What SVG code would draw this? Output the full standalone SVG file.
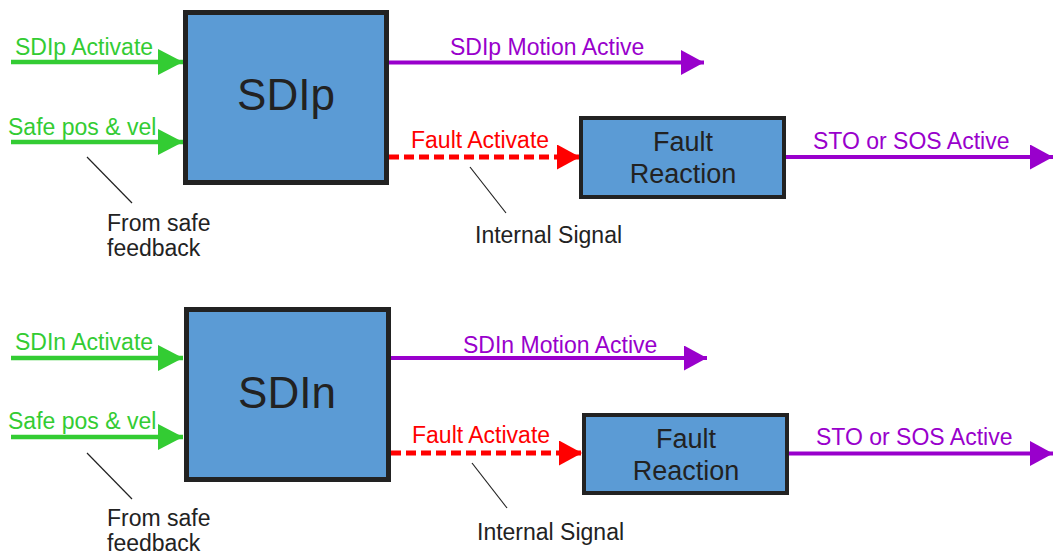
<svg xmlns="http://www.w3.org/2000/svg" width="1053" height="554" viewBox="0 0 1053 554">
<style>
text{font-family:"Liberation Sans",Arial,sans-serif;font-size:23px}
.g{fill:#33cc33}.p{fill:#9900cc}.r{fill:#ff0000}.k{fill:#222222}
.box{fill:#5b9bd5;stroke:#222222}
.big{font-size:44px;text-anchor:middle}
.fr{font-size:27px;text-anchor:middle}
.gl{stroke:#33cc33;stroke-width:4.5;fill:none}
.pl{stroke:#9900cc;stroke-width:4;fill:none}
.rl{stroke:#ff0000;stroke-width:5;stroke-dasharray:10 5;fill:none}
.lead{stroke:#222222;stroke-width:1.2;fill:none}
</style>
<defs>
<marker id="ag" markerUnits="userSpaceOnUse" markerWidth="25" markerHeight="26" refX="25" refY="13" orient="auto"><path d="M0,0 L25,13 L0,26 z" fill="#33cc33"/></marker>
<marker id="ap" markerUnits="userSpaceOnUse" markerWidth="23" markerHeight="25" refX="23" refY="12.5" orient="auto"><path d="M0,0 L23,12.5 L0,25 z" fill="#9900cc"/></marker>
<marker id="ar" markerUnits="userSpaceOnUse" markerWidth="23" markerHeight="25" refX="23" refY="12.5" orient="auto"><path d="M0,0 L23,12.5 L0,25 z" fill="#ff0000"/></marker>
</defs>
<rect width="1053" height="554" fill="#ffffff"/>

<g id="connectors">
<path class="gl" d="M11,62 H183" marker-end="url(#ag)"/>
<path class="gl" d="M11,142 H183" marker-end="url(#ag)"/>
<path class="pl" d="M389,62.5 H704" marker-end="url(#ap)"/>
<path class="rl" d="M389,157 H580" marker-end="url(#ar)"/>
<path class="pl" d="M786,157 H1053" marker-end="url(#ap)"/>
<path class="lead" d="M87,157 L132,203"/>
<path class="lead" d="M470,167 L506,213"/>

<path class="gl" d="M11,358 H183" marker-end="url(#ag)"/>
<path class="gl" d="M11,437 H183" marker-end="url(#ag)"/>
<path class="pl" d="M391,358 H707" marker-end="url(#ap)"/>
<path class="rl" d="M391,453 H582" marker-end="url(#ar)"/>
<path class="pl" d="M789,453.5 H1053" marker-end="url(#ap)"/>
<path class="lead" d="M87,453 L132,499"/>
<path class="lead" d="M472,463 L507,508"/>
</g>

<g id="labels">
<text class="g" x="15" y="55">SDIp Activate</text>
<text class="g" x="8" y="135">Safe pos &amp; vel</text>
<text class="p" x="450" y="55">SDIp Motion Active</text>
<text class="r" x="411" y="148">Fault Activate</text>
<text class="p" x="813" y="149">STO or SOS Active</text>
<text class="k" x="107" y="231">From safe</text>
<text class="k" x="107" y="256">feedback</text>
<text class="k" x="475" y="243">Internal Signal</text>

<text class="g" x="15" y="350">SDIn Activate</text>
<text class="g" x="8" y="429">Safe pos &amp; vel</text>
<text class="p" x="463" y="353">SDIn Motion Active</text>
<text class="r" x="412" y="443">Fault Activate</text>
<text class="p" x="816" y="445">STO or SOS Active</text>
<text class="k" x="107" y="526">From safe</text>
<text class="k" x="107" y="551">feedback</text>
<text class="k" x="477" y="540">Internal Signal</text>
</g>

<g id="sdip">
<rect class="box" x="185.5" y="12.5" width="201" height="170" stroke-width="5"/>
<text class="k big" x="286" y="110">SDIp</text>
</g>
<g id="fault-reaction-1">
<rect class="box" x="581" y="118" width="203" height="79" stroke-width="4"/>
<text class="k fr" x="683" y="151">Fault</text>
<text class="k fr" x="683" y="183">Reaction</text>
</g>
<g id="sdin">
<rect class="box" x="186.5" y="309.5" width="202" height="170" stroke-width="5"/>
<text class="k big" x="287" y="408">SDIn</text>
</g>
<g id="fault-reaction-2">
<rect class="box" x="584" y="415" width="203" height="78" stroke-width="4"/>
<text class="k fr" x="686" y="448">Fault</text>
<text class="k fr" x="686" y="480">Reaction</text>
</g>
</svg>
